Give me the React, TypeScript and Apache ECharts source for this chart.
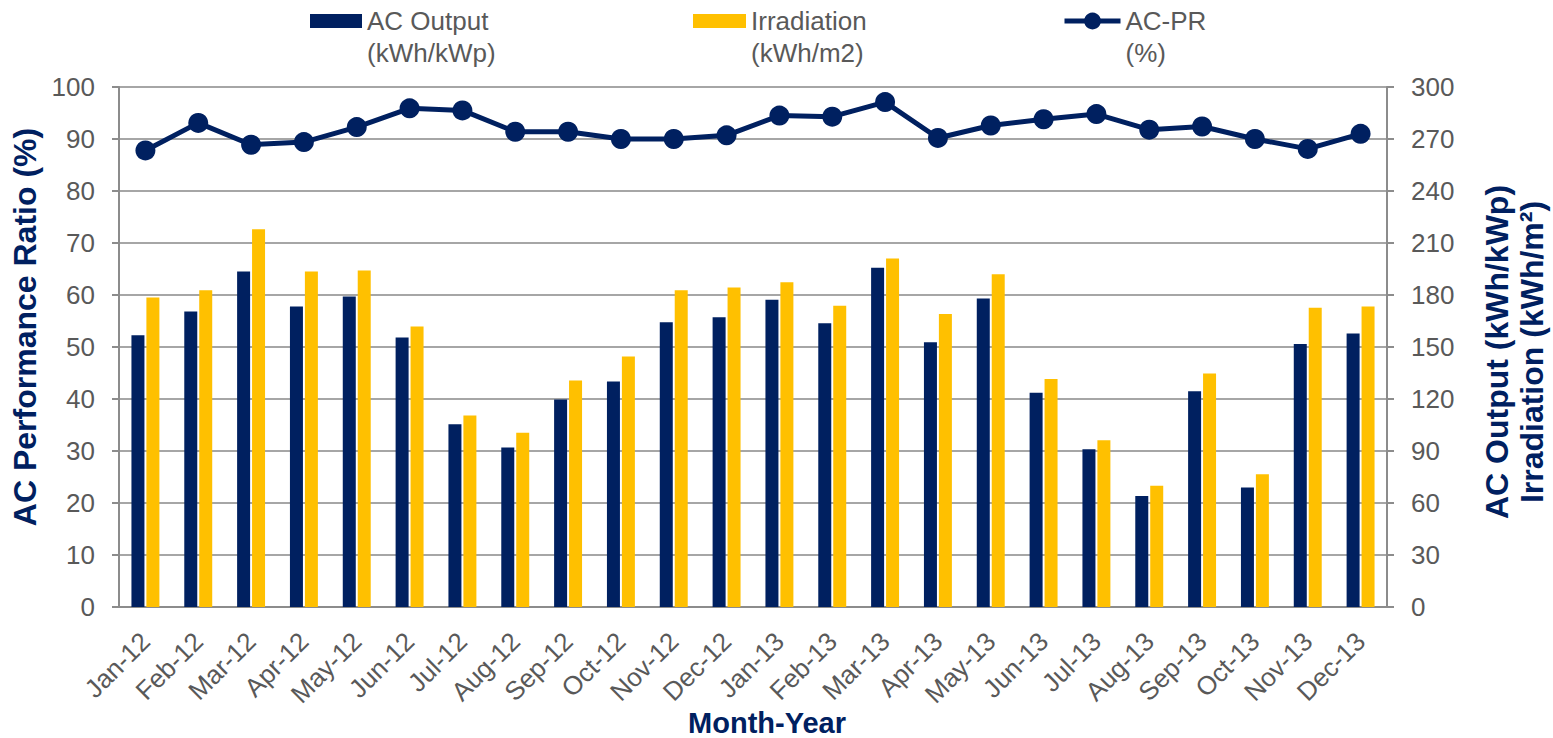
import React, { useEffect, useRef } from 'react';
import * as echarts from 'echarts';

const categories = [
  'Jan-12', 'Feb-12', 'Mar-12', 'Apr-12', 'May-12', 'Jun-12',
  'Jul-12', 'Aug-12', 'Sep-12', 'Oct-12', 'Nov-12', 'Dec-12',
  'Jan-13', 'Feb-13', 'Mar-13', 'Apr-13', 'May-13', 'Jun-13',
  'Jul-13', 'Aug-13', 'Sep-13', 'Oct-13', 'Nov-13', 'Dec-13',
];

// AC Output (kWh/kWp) - right axis
const acOutput = [
  156.8, 170.5, 193.6, 173.4, 179.1, 155.5,
  105.5, 92.0, 119.7, 130.1, 164.3, 167.2,
  177.2, 163.7, 195.7, 152.8, 178.0, 123.6,
  91.0, 64.1, 124.5, 68.9, 151.8, 157.8,
];

// Irradiation (kWh/m2) - right axis
const irradiation = [
  178.6, 182.8, 218.0, 193.6, 194.1, 161.8,
  110.5, 100.5, 130.7, 144.5, 182.8, 184.3,
  187.4, 173.8, 201.1, 169.1, 192.0, 131.6,
  96.2, 69.9, 134.7, 76.6, 172.6, 173.4,
];

// AC-PR (%) - left axis
const acPR = [
  87.8, 93.1, 88.9, 89.4, 92.3, 95.9,
  95.5, 91.4, 91.4, 90.0, 90.0, 90.7,
  94.5, 94.3, 97.1, 90.2, 92.6, 93.8,
  94.8, 91.8, 92.4, 90.0, 88.1, 91.0,
];

const seriesNames = ['AC Output (kWh/kWp)', 'Irradiation (kWh/m2)', 'AC-PR (%)'];

const NAVY = '#002060';
const GOLD = '#FFC000';
const TEXT_GRAY = '#595959';
const GRID_GRAY = '#A6A6A6';
const AXIS_GRAY = '#8C8C8C';
const FONT = '"Liberation Sans", Arial, Helvetica, sans-serif';

export default function App() {
  const ref = useRef<HTMLDivElement>(null);

  useEffect(() => {
    document.body.style.margin = '0';
    const chart = echarts.init(ref.current!, null, { renderer: 'svg' });

    const legendBase = {
      orient: 'horizontal',
      padding: 0,
      top: -27,
      selectedMode: false,
      // a blank first line keeps the name's first line level with the icon
      formatter: (name: string) => ' \n' + name.replace(' (', '\n('),
      textStyle: {
        color: TEXT_GRAY,
        fontSize: 26,
        fontFamily: FONT,
        lineHeight: 32,
      },
    };

    chart.setOption({
      animation: false,
      backgroundColor: '#ffffff',
      textStyle: { fontFamily: FONT },
      legend: [
        { ...legendBase, left: 310, data: [seriesNames[0]], icon: 'rect', itemWidth: 52, itemHeight: 14 },
        { ...legendBase, left: 693, data: [seriesNames[1]], icon: 'rect', itemWidth: 53, itemHeight: 14 },
        {
          ...legendBase,
          left: 1062,
          data: [seriesNames[2]],
          itemWidth: 56,
          itemHeight: 21,
          lineStyle: { width: 5 },
        },
      ],
      grid: {
        left: 119,
        right: 166,
        top: 87,
        bottom: 131,
        containLabel: false,
        outerBoundsMode: 'none',
      },
      xAxis: {
        type: 'category',
        data: categories,
        name: 'Month-Year',
        nameLocation: 'middle',
        nameGap: 103,
        nameMoveOverlap: false,
        nameTextStyle: {
          color: NAVY,
          fontSize: 29,
          fontWeight: 'bold',
          fontFamily: FONT,
          lineHeight: 26,
          padding: [0, 0, 0, 28],
        },
        axisLine: { show: true, lineStyle: { color: AXIS_GRAY, width: 2 } },
        axisTick: { show: false },
        axisLabel: {
          interval: 0,
          rotate: 45,
          margin: 30,
          color: TEXT_GRAY,
          fontSize: 26,
          fontFamily: FONT,
        },
        splitLine: { show: false },
      },
      yAxis: [
        {
          type: 'value',
          position: 'left',
          min: 0,
          max: 100,
          interval: 10,
          name: 'AC Performance Ratio (%)',
          nameLocation: 'middle',
          nameRotate: 90,
          nameGap: 75,
          nameTextStyle: {
            color: NAVY,
            fontSize: 32,
            fontWeight: 'bold',
            fontFamily: FONT,
            padding: [0, 0, 0, 40],
          },
          axisLine: { show: true, lineStyle: { color: AXIS_GRAY, width: 2 } },
          axisTick: { show: true, length: 7, lineStyle: { color: AXIS_GRAY, width: 2 } },
          axisLabel: { margin: 24, color: TEXT_GRAY, fontSize: 26, fontFamily: FONT },
          splitLine: { show: true, lineStyle: { color: GRID_GRAY, width: 2 } },
        },
        {
          type: 'value',
          position: 'right',
          min: 0,
          max: 300,
          interval: 30,
          name: 'AC Output (kWh/kWp)\nIrradiation (kWh/m²)',
          nameLocation: 'middle',
          nameRotate: 90,
          nameGap: 92,
          nameTextStyle: {
            color: NAVY,
            fontSize: 32,
            fontWeight: 'bold',
            fontFamily: FONT,
            lineHeight: 35,
            align: 'center',
            padding: [0, 10, 0, 0],
          },
          axisLine: { show: true, lineStyle: { color: AXIS_GRAY, width: 2 } },
          axisTick: { show: true, length: 7, lineStyle: { color: AXIS_GRAY, width: 2 } },
          axisLabel: { margin: 24, color: TEXT_GRAY, fontSize: 26, fontFamily: FONT },
          splitLine: { show: false },
        },
      ],
      series: [
        {
          name: seriesNames[0],
          type: 'bar',
          yAxisIndex: 1,
          data: acOutput,
          barWidth: 13,
          barGap: '15%',
          itemStyle: { color: NAVY },
        },
        {
          name: seriesNames[1],
          type: 'bar',
          yAxisIndex: 1,
          data: irradiation,
          barWidth: 13,
          barGap: '15%',
          itemStyle: { color: GOLD },
        },
        {
          name: seriesNames[2],
          type: 'line',
          yAxisIndex: 0,
          data: acPR,
          symbol: 'circle',
          symbolSize: 20,
          z: 5,
          lineStyle: { color: NAVY, width: 5 },
          itemStyle: { color: NAVY },
        },
      ],
    });

    return () => chart.dispose();
  }, []);

  return <div ref={ref} style={{ width: 1553, height: 738 }} />;
}
